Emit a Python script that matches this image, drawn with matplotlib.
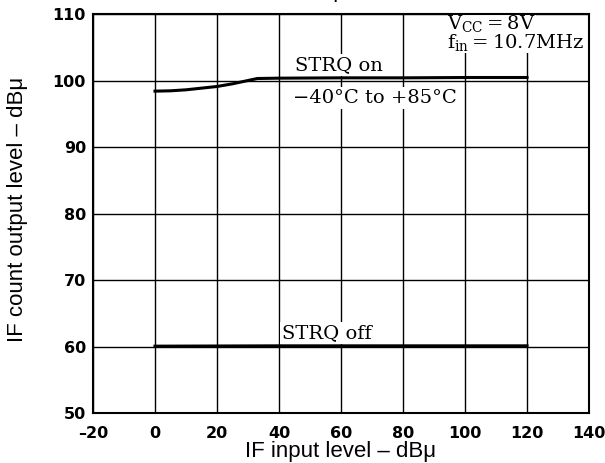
import matplotlib
matplotlib.use("Agg")
import matplotlib.pyplot as plt

# Data
strq_on_x = [0, 5, 10, 15, 20, 25, 30, 33, 40, 60, 80, 100, 120]
strq_on_y = [98.4, 98.45, 98.6, 98.85, 99.1, 99.5, 100.0, 100.3, 100.35, 100.4, 100.4, 100.45, 100.45]
strq_off_x = [0, 40, 80, 120]
strq_off_y = [60.05, 60.1, 60.1, 60.1]
x_ticks = [-20, 0, 20, 40, 60, 80, 100, 120, 140]
y_ticks = [50, 60, 70, 80, 90, 100, 110]

plt.rcParams['mathtext.fontset'] = 'dejavuserif'

W, H = 605, 463
fig = plt.figure(figsize=(W / 100, H / 100), dpi=100)
L, R, T, B = 93, 589, 14, 413
ax = fig.add_axes([L / W, 1 - B / H, (R - L) / W, (B - T) / H])
ax.set_xlim(-20, 140)
ax.set_ylim(50, 110)
ax.set_xticks(x_ticks)
ax.set_yticks(y_ticks)
ax.set_xticklabels([("–20" if v < 0 else str(v)) for v in x_ticks],
                   fontfamily='DejaVu Sans', fontweight='bold', fontsize=11.5)
ax.set_yticklabels([str(v) for v in y_ticks],
                   fontfamily='DejaVu Sans', fontweight='bold', fontsize=11.5)
ax.tick_params(axis='both', length=0)
ax.tick_params(axis='x', pad=9)
ax.tick_params(axis='y', pad=5)
ax.grid(True, color='black', linewidth=1.0)
ax.set_axisbelow(True)
for s in ax.spines.values():
    s.set_linewidth(1.5)

ax.plot(strq_on_x, strq_on_y, color='black', linewidth=2.2, zorder=3)
ax.plot(strq_off_x, strq_off_y, color='black', linewidth=2.2, zorder=3)

tfont = dict(family='DejaVu Serif', fontsize=14, va='baseline', ha='left', zorder=2)
wb = dict(facecolor='white', edgecolor='none', pad=1.5)
ax.text(45.2, 101.6, "STRQ on", bbox=wb, **tfont)
ax.text(44.5, 96.6, "−40°C to +85°C", bbox=wb, **tfont)
ax.text(41.0, 61.3, "STRQ off", bbox=wb, **tfont)
vb = dict(facecolor='white', edgecolor='none', pad=0)
ax.text(94.2, 107.8, "V$_{\\mathrm{CC}}$\u2009=\u20098V", bbox=vb, **tfont)
ax.text(94.2, 104.9, "f$_{\\mathrm{in}}$\u2009=\u200910.7MHz", bbox=vb, **tfont)

lab = dict(family='Liberation Sans', fontsize=16)
fig.text(341 / W, 1 - 457 / H, "IF input level – dBμ", ha='center', va='baseline', **lab)
fig.text(7 / W, 1 - 209 / H, "IF count output level – dBμ", ha='left', va='center',
         rotation=90, **lab)
fig.text(328 / W, 1 + 3 / H, "Count Output Level", ha='center', va='baseline', **lab)

fig.savefig("out.png", dpi=100)
